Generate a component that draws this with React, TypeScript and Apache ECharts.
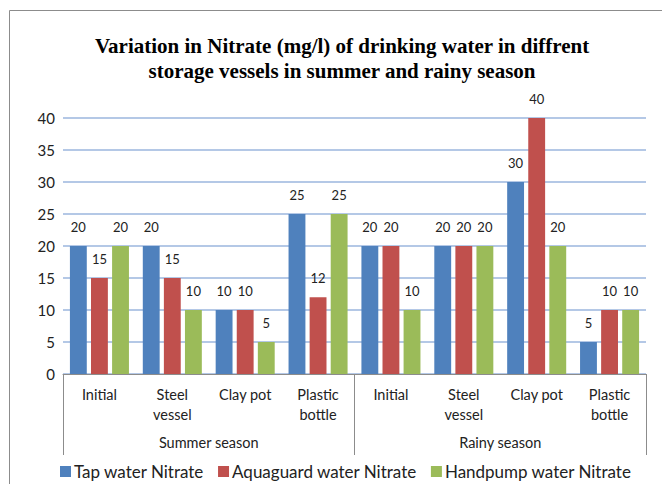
import React, { useEffect, useRef } from "react";
import * as echarts from "echarts";

const categories = ["Initial", "Steel\nvessel", "Clay pot", "Plastic\nbottle", "Initial", "Steel\nvessel", "Clay pot", "Plastic\nbottle"];
const seasons = ["Summer season", "Rainy season"];
const tapWater = [20, 20, 10, 25, 20, 20, 30, 5];
const aquaguardWater = [15, 15, 10, 12, 20, 20, 40, 10];
const handpumpWater = [20, 10, 5, 25, 10, 20, 20, 10];
const seriesNames = ["Tap water Nitrate", "Aquaguard water Nitrate", "Handpump water Nitrate"];
const colors = ["#4F81BD", "#C0504D", "#9BBB59"];

const FONT = "Lato, 'Open Sans', sans-serif";

export default function App() {
  const ref = useRef<HTMLDivElement>(null);
  useEffect(() => {
    document.body.style.margin = "0";
    const chart = echarts.init(ref.current!, null, { renderer: "svg" });
    const label = {
      show: true,
      position: "top",
      distance: 13,
      fontSize: 13,
      fontFamily: FONT,
      color: "#222",
    };
    const values = [tapWater, aquaguardWater, handpumpWater];
    chart.setOption({
      animation: false,
      backgroundColor: "#fff",
      title: {
        text: "Variation in Nitrate (mg/l) of drinking water in diffrent\nstorage vessels in summer and rainy season",
        left: 337,
        top: 28,
        textAlign: "center",
        textStyle: {
          fontFamily: "'Liberation Serif', 'Times New Roman', serif",
          fontWeight: "bold",
          fontSize: 21,
          lineHeight: 25,
          color: "#000",
        },
      },
      graphic: [
        {
          type: "rect",
          shape: { x: 9.5, y: 10.5, width: 700, height: 500 },
          style: { fill: "none", stroke: "#8c8c8c", lineWidth: 1 },
          silent: true,
        },
      ],
      legend: {
        data: seriesNames,
        left: 55,
        top: 458,
        itemWidth: 11,
        itemHeight: 11,
        itemGap: 14,
        icon: "rect",
        textStyle: { fontFamily: FONT, fontSize: 17, color: "#222", padding: [0, 0, 0, -2] },
      },
      grid: { left: 63, right: 16, top: 118, bottom: 110, containLabel: false },
      xAxis: [
        {
          type: "category",
          data: categories,
          position: "bottom",
          axisLine: { show: true, lineStyle: { color: "#8c8c8c", width: 1 } },
          axisTick: { show: false },
          axisLabel: {
            interval: 0,
            margin: 10,
            fontFamily: FONT,
            fontSize: 14.5,
            lineHeight: 20,
            color: "#222",
            verticalAlign: "top",
          },
        },
        {
          type: "category",
          data: seasons,
          position: "bottom",
          offset: 0,
          axisLine: { show: false },
          axisTick: { show: true, length: 81, lineStyle: { color: "#8c8c8c", width: 1 } },
          axisLabel: {
            interval: 0,
            margin: 61,
            fontFamily: FONT,
            fontSize: 14.5,
            color: "#222",
            verticalAlign: "top",
          },
        },
      ],
      yAxis: {
        type: "value",
        min: 0,
        max: 40,
        interval: 5,
        axisLine: { show: false },
        axisTick: { show: false },
        axisLabel: { fontFamily: FONT, fontSize: 15, color: "#222", margin: 8 },
        splitLine: { lineStyle: { color: "#b4c8e6", width: 2 } },
      },
      series: seriesNames.map((name, i) => ({
        name,
        type: "bar",
        xAxisIndex: 0,
        data: values[i],
        itemStyle: { color: colors[i] },
        barGap: "25%",
        barCategoryGap: "19%",
        label,
      })),
    });
    return () => chart.dispose();
  }, []);
  return <div ref={ref} style={{ width: 662, height: 484 }} />;
}
